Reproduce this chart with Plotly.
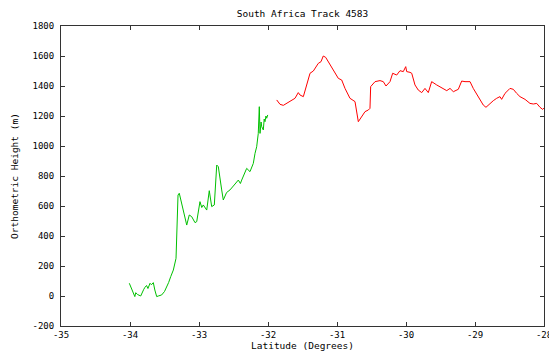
import plotly.graph_objects as go

# Green segment (latitude, orthometric height)
green_lat = [-34.01, -33.98, -33.95, -33.93, -33.917, -33.89, -33.845, -33.82, -33.80, -33.783,
             -33.76, -33.74, -33.71, -33.69, -33.662, -33.64, -33.613, -33.59, -33.541, -33.50,
             -33.468, -33.44, -33.41, -33.39, -33.372, -33.333, -33.323, -33.304, -33.286, -33.265,
             -33.228, -33.178, -33.141, -33.106, -33.058, -33.033, -32.986, -32.96, -32.938, -32.888,
             -32.851, -32.83, -32.816, -32.778, -32.743, -32.72, -32.696, -32.671, -32.648, -32.623,
             -32.60, -32.551, -32.526, -32.49, -32.43, -32.40, -32.381, -32.333, -32.309, -32.261,
             -32.213, -32.188, -32.164, -32.141, -32.126, -32.116, -32.10, -32.091, -32.068, -32.055,
             -32.043, -32.03, -32.019, -32.004]
green_h = [85, 55, 20, -4, 22, 10, 0, 30, 45, 58,
           70, 50, 85, 75, 89, 40, -4, 0, 7, 30,
           58, 90, 129, 150, 173, 251, 440, 673, 685, 640,
           573, 473, 540, 529, 489, 496, 629, 590, 607, 573,
           702, 640, 596, 607, 873, 862, 773, 707, 640, 673,
           690, 707, 718, 740, 773, 750, 773, 818, 851, 829,
           884, 951, 995, 1084, 1262, 1084, 1160, 1129, 1107, 1180,
           1162, 1200, 1185, 1207]

# Red segment (latitude, orthometric height)
red_lat = [-31.874, -31.826, -31.778, -31.729, -31.657, -31.609, -31.561, -31.536, -31.488, -31.439,
           -31.391, -31.343, -31.271, -31.232, -31.199, -31.164, -31.101, -31.029, -30.981, -30.932,
           -30.884, -30.812, -30.739, -30.691, -30.642, -30.594, -30.546, -30.522, -30.512, -30.449,
           -30.377, -30.329, -30.290, -30.232, -30.193, -30.135, -30.087, -30.039, -30.004, -29.990,
           -29.942, -29.917, -29.870, -29.822, -29.772, -29.725, -29.677, -29.628, -29.555, -29.459,
           -29.410, -29.362, -29.314, -29.242, -29.193, -29.145, -29.072, -29.025, -28.952, -28.880,
           -28.841, -28.783, -28.735, -28.686, -28.638, -28.614, -28.565, -28.493, -28.445, -28.396,
           -28.348, -28.275, -28.203, -28.155, -28.106, -28.058, -28.019, -27.980]
red_h = [1307, 1278, 1271, 1284, 1300, 1318, 1356, 1340, 1329, 1418,
         1485, 1500, 1551, 1562, 1600, 1591, 1540, 1485, 1451, 1440,
         1384, 1318, 1296, 1162, 1195, 1229, 1240, 1251, 1396, 1429,
         1436, 1429, 1400, 1429, 1485, 1473, 1502, 1496, 1529, 1496,
         1491, 1485, 1407, 1373, 1356, 1384, 1356, 1429, 1407, 1378,
         1369, 1384, 1362, 1378, 1433, 1429, 1429, 1384, 1329, 1273,
         1258, 1284, 1302, 1318, 1329, 1311, 1351, 1384, 1378, 1351,
         1329, 1311, 1284, 1280, 1284, 1258, 1244, 1262]

x_ticks = [-35, -34, -33, -32, -31, -30, -29, -28]
y_ticks = [-200, 0, 200, 400, 600, 800, 1000, 1200, 1400, 1600, 1800]

FONT = "DejaVu Sans Mono"

fig = go.Figure()
fig.add_trace(go.Scatter(x=green_lat, y=green_h, mode="lines",
                         line=dict(color="#00C000", width=1), showlegend=False))
fig.add_trace(go.Scatter(x=red_lat, y=red_h, mode="lines",
                         line=dict(color="#FF0000", width=1), showlegend=False))

axis_common = dict(showgrid=False, zeroline=False, showline=True, linecolor="#333333",
                   linewidth=1, mirror="ticks", ticks="inside", ticklen=4,
                   ticklabeloverflow="allow", automargin=False,
                   tickcolor="#333333", tickfont=dict(family=FONT, size=9, color="#000000"))

fig.update_layout(
    width=549, height=354,
    margin=dict(l=61, r=5, t=26, b=28),
    paper_bgcolor="white", plot_bgcolor="white",
    title=dict(text="South Africa Track 4583", x=(61 + 544) / 2 / 549, xanchor="center",
               y=1 - 14 / 354, yanchor="middle",
               font=dict(family=FONT, size=9.5, color="#000000")),
    xaxis=dict(range=[-35, -28], tickvals=x_ticks, ticktext=[str(v) for v in x_ticks],
               title=dict(text="Latitude (Degrees)", standoff=2,
                          font=dict(family=FONT, size=9.5, color="#000000")),
               **axis_common),
    yaxis=dict(range=[-200, 1800], tickvals=y_ticks, ticktext=[str(v) for v in y_ticks],
               ticklabelstandoff=4,
               title=dict(text="Orthometric Height (m)", standoff=12,
                          font=dict(family=FONT, size=9.5, color="#000000")),
               **axis_common),
)

fig.write_html("out.html")
